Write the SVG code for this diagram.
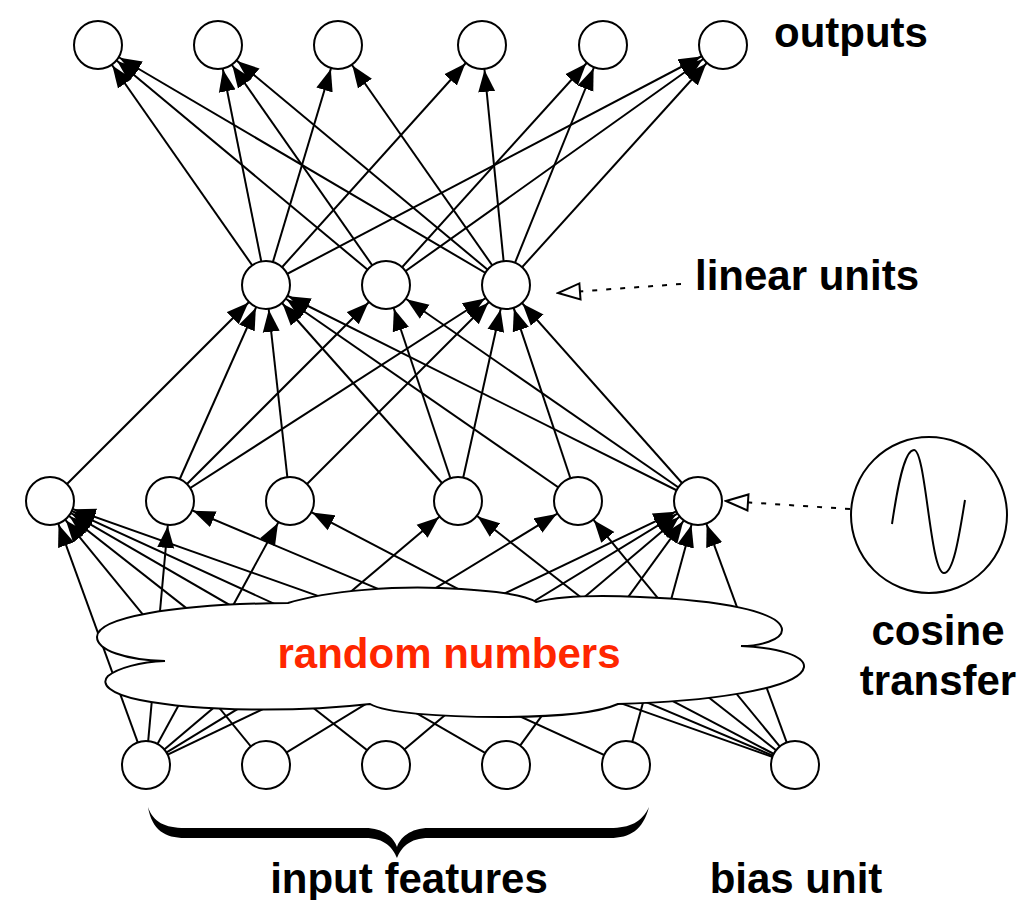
<svg xmlns="http://www.w3.org/2000/svg" width="1024" height="900" viewBox="0 0 1024 900">
<style>
.n{fill:#fff;stroke:#000;stroke-width:2}
.c line{stroke:#000;stroke-width:2;marker-end:url(#arr)}
.d{stroke:#000;stroke-width:2;stroke-dasharray:5 9;fill:none;marker-end:url(#open)}
.t{font-family:"Liberation Sans",Arial,Helvetica,sans-serif;font-weight:bold;font-size:42px;fill:#000;text-anchor:middle}
</style>
<defs>
<marker id="arr" viewBox="0 0 48 18" refX="47" refY="9" markerWidth="48" markerHeight="18" markerUnits="userSpaceOnUse" orient="auto">
<path d="M0,0.5 L22,9 L0,17.5 Z" fill="#000" stroke="none"/>
</marker>
<marker id="open" viewBox="0 0 26 20" refX="24" refY="10" markerWidth="26" markerHeight="20" markerUnits="userSpaceOnUse" orient="auto">
<path d="M24,10 L2,2 L2,18 Z" fill="#fff" stroke="#000" stroke-width="2" stroke-dasharray="none"/>
</marker>
</defs>
<rect width="1024" height="900" fill="#fff"/>
<g id="connectors" class="c">
<line x1="146" y1="765" x2="50" y2="501"/>
<line x1="146" y1="765" x2="170" y2="501"/>
<line x1="146" y1="765" x2="290" y2="501"/>
<line x1="146" y1="765" x2="458" y2="501"/>
<line x1="146" y1="765" x2="578" y2="501"/>
<line x1="146" y1="765" x2="698" y2="501"/>
<line x1="266" y1="765" x2="50" y2="501"/>
<line x1="266" y1="765" x2="698" y2="501"/>
<line x1="386" y1="765" x2="50" y2="501"/>
<line x1="386" y1="765" x2="698" y2="501"/>
<line x1="506" y1="765" x2="50" y2="501"/>
<line x1="506" y1="765" x2="698" y2="501"/>
<line x1="626" y1="765" x2="50" y2="501"/>
<line x1="626" y1="765" x2="698" y2="501"/>
<line x1="795" y1="765" x2="50" y2="501"/>
<line x1="795" y1="765" x2="170" y2="501"/>
<line x1="795" y1="765" x2="290" y2="501"/>
<line x1="795" y1="765" x2="458" y2="501"/>
<line x1="795" y1="765" x2="578" y2="501"/>
<line x1="795" y1="765" x2="698" y2="501"/>
<line x1="50" y1="501" x2="266" y2="285"/>
<line x1="170" y1="501" x2="266" y2="285"/>
<line x1="290" y1="501" x2="266" y2="285"/>
<line x1="458" y1="501" x2="266" y2="285"/>
<line x1="578" y1="501" x2="266" y2="285"/>
<line x1="698" y1="501" x2="266" y2="285"/>
<line x1="170" y1="501" x2="386" y2="285"/>
<line x1="458" y1="501" x2="386" y2="285"/>
<line x1="698" y1="501" x2="386" y2="285"/>
<line x1="170" y1="501" x2="506" y2="285"/>
<line x1="290" y1="501" x2="506" y2="285"/>
<line x1="458" y1="501" x2="506" y2="285"/>
<line x1="578" y1="501" x2="506" y2="285"/>
<line x1="698" y1="501" x2="506" y2="285"/>
<line x1="266" y1="285" x2="98" y2="45"/>
<line x1="266" y1="285" x2="218" y2="45"/>
<line x1="266" y1="285" x2="338" y2="45"/>
<line x1="266" y1="285" x2="482" y2="45"/>
<line x1="266" y1="285" x2="723" y2="45"/>
<line x1="386" y1="285" x2="98" y2="45"/>
<line x1="386" y1="285" x2="218" y2="45"/>
<line x1="386" y1="285" x2="603" y2="45"/>
<line x1="386" y1="285" x2="723" y2="45"/>
<line x1="506" y1="285" x2="98" y2="45"/>
<line x1="506" y1="285" x2="218" y2="45"/>
<line x1="506" y1="285" x2="338" y2="45"/>
<line x1="506" y1="285" x2="482" y2="45"/>
<line x1="506" y1="285" x2="603" y2="45"/>
<line x1="506" y1="285" x2="723" y2="45"/>
</g>
<g id="cloud">
<path d="M288 603 C330 590 400 586 440 588 C490 590 525 595 536 602 C560 596 600 595 640 597 C720 600 782 612 782 630 C782 640 760 646 741 646 C780 648 805 656 804 667 C800 690 700 702 618 704 C600 712 560 717 500 717 C440 717 385 713 370 704 C300 712 200 712 140 700 C110 694 100 684 108 676 C118 668 140 662 165 661 C125 660 97 650 97 637 C97 618 170 604 288 603 Z" fill="#fff" stroke="#000" stroke-width="2"/>
<text x="449" y="668" class="t" style="fill:#FF2600">random numbers</text>
</g>
<g id="outputs">
<circle class="n" cx="98" cy="45" r="24"/>
<circle class="n" cx="218" cy="45" r="24"/>
<circle class="n" cx="338" cy="45" r="24"/>
<circle class="n" cx="482" cy="45" r="24"/>
<circle class="n" cx="603" cy="45" r="24"/>
<circle class="n" cx="723" cy="45" r="24"/>
<text x="851" y="47" class="t">outputs</text>
</g>
<g id="linear-units">
<circle class="n" cx="266" cy="285" r="24"/>
<circle class="n" cx="386" cy="285" r="24"/>
<circle class="n" cx="506" cy="285" r="24"/>
<path class="d" d="M681 284 L558 293"/>
<text x="807" y="290" class="t">linear units</text>
</g>
<g id="cosine-units">
<circle class="n" cx="50" cy="501" r="24"/>
<circle class="n" cx="170" cy="501" r="24"/>
<circle class="n" cx="290" cy="501" r="24"/>
<circle class="n" cx="458" cy="501" r="24"/>
<circle class="n" cx="578" cy="501" r="24"/>
<circle class="n" cx="698" cy="501" r="24"/>
</g>
<g id="cosine-transfer">
<circle class="n" cx="929" cy="515" r="78"/>
<path d="M892 524 C897 490 904 450 914 450 C926 450 930 573 944 573 C954 573 960 530 965 500" fill="none" stroke="#000" stroke-width="2"/>
<path class="d" d="M850 509 L726 501"/>
<text x="938" y="645" class="t">cosine</text>
<text x="938" y="695" class="t">transfer</text>
</g>
<g id="inputs">
<circle class="n" cx="146" cy="765" r="24"/>
<circle class="n" cx="266" cy="765" r="24"/>
<circle class="n" cx="386" cy="765" r="24"/>
<circle class="n" cx="506" cy="765" r="24"/>
<circle class="n" cx="626" cy="765" r="24"/>
<path d="M148 807 C152 830 165 838 185 838 L365 838 C385 838 393 848 397 858 C401 848 409 838 429 838 L610 838 C630 838 643 830 649 807 C642 822 630 828 610 828 L429 828 C410 828 400 838 397 847 C394 838 384 828 365 828 L185 828 C165 828 153 822 148 807 Z" fill="#000"/>
<text x="409" y="893" class="t">input features</text>
</g>
<g id="bias">
<circle class="n" cx="795" cy="765" r="24"/>
<text x="796" y="893" class="t">bias unit</text>
</g>
</svg>
